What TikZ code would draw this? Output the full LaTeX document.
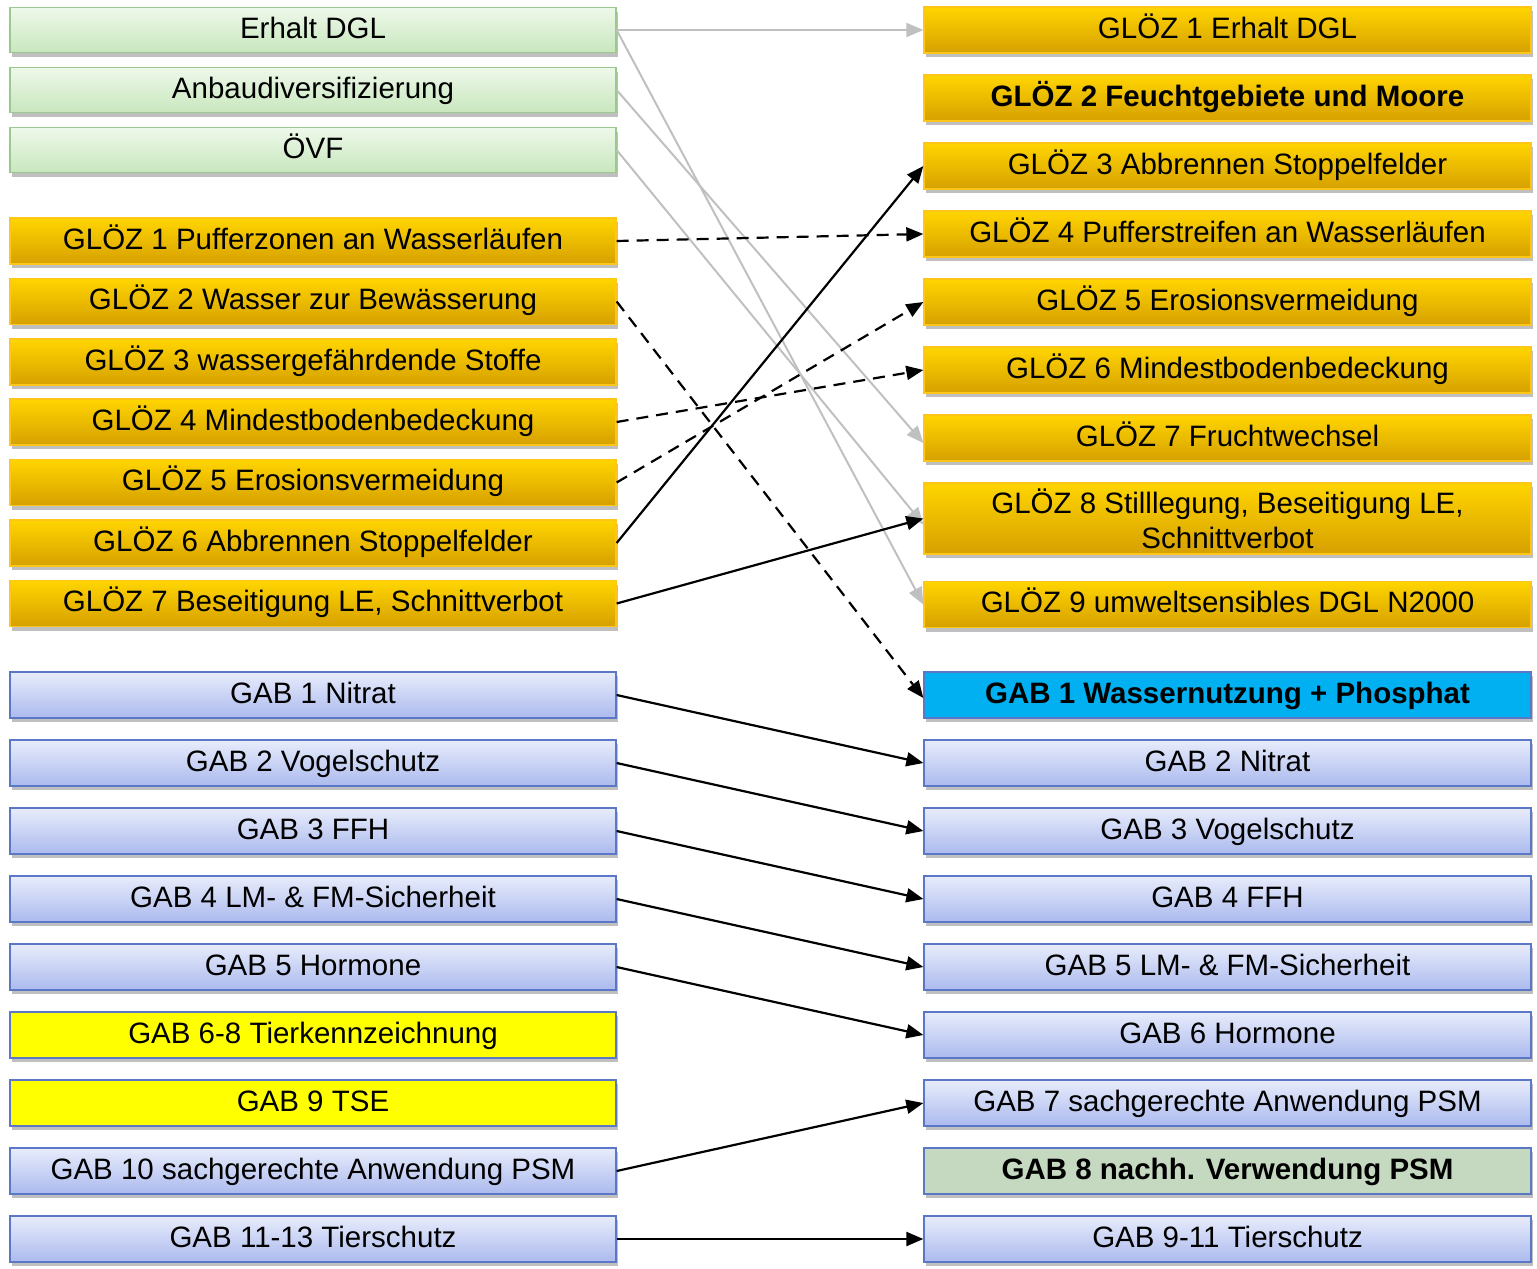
\documentclass[tikz,border=0pt]{standalone}
\usepackage{fontspec}
\setmainfont{Liberation Sans}
\usetikzlibrary{arrows.meta,shadows}
\definecolor{greenTop}{HTML}{EEF8EA}
\definecolor{greenBot}{HTML}{C8E7BE}
\definecolor{greenDraw}{HTML}{9BC88D}
\definecolor{goldTop}{HTML}{FFD500}
\definecolor{goldBot}{HTML}{D6A000}
\definecolor{goldDraw}{HTML}{FFC61A}
\definecolor{lavTop}{HTML}{E8ECFB}
\definecolor{lavBot}{HTML}{ABBAEE}
\definecolor{lavDraw}{HTML}{5A78C5}
\definecolor{yelFill}{HTML}{FFFF00}
\definecolor{cyanFill}{HTML}{00B0F0}
\definecolor{sageFill}{HTML}{C4D9C0}
\definecolor{lineGray}{HTML}{C0C0C0}
\begin{document}
\begin{tikzpicture}[x=1pt,y=-1pt,
  box/.style={rectangle, minimum width=606pt, minimum height=46pt, inner sep=0pt,
    align=center, font=\fontsize{29.5}{35}\selectfont, line width=1.3pt,
    text height=21pt, text depth=5pt,
    drop shadow={shadow xshift=2pt, shadow yshift=-4pt, opacity=0.25, fill=black}},
  greenbox/.style={box, draw=greenDraw, top color=greenTop, bottom color=greenBot},
  goldbox/.style={box, draw=goldDraw, top color=goldTop, bottom color=goldBot},
  lavbox/.style={box, draw=lavDraw, top color=lavTop, bottom color=lavBot},
  yelbox/.style={box, draw=lavDraw, fill=yelFill},
  cyanbox/.style={box, draw=lavDraw, fill=cyanFill, font=\fontsize{29.5}{35}\selectfont\bfseries},
  sagebox/.style={box, draw=lavDraw, fill=sageFill, font=\fontsize{29.5}{35}\selectfont\bfseries},
  boldtext/.style={font=\fontsize{29.5}{35}\selectfont\bfseries},
  grayarrow/.style={draw=lineGray, line width=2pt, -{Triangle[length=17pt,width=14pt]}},
  blackarrow/.style={draw=black, line width=2.2pt, -{Triangle[length=17pt,width=14pt]}},
  dasharrow/.style={blackarrow, dash pattern=on 12pt off 8pt}
]
\useasboundingbox (0,0) rectangle (1537,1269);

% left column
\node[greenbox, minimum height=45pt] (eDGL) at (313,30) {Erhalt DGL};
\node[greenbox, minimum height=45pt] (anbau) at (313,90) {Anbaudiversifizierung};
\node[greenbox, minimum height=45pt] (oevf) at (313,150) {ÖVF};

\node[goldbox] (lg1) at (313,241) {GLÖZ 1 Pufferzonen an Wasserläufen};
\node[goldbox] (lg2) at (313,301.5) {GLÖZ 2 Wasser zur Bewässerung};
\node[goldbox] (lg3) at (313,362) {GLÖZ 3 wassergefährdende Stoffe};
\node[goldbox] (lg4) at (313,422) {GLÖZ 4 Mindestbodenbedeckung};
\node[goldbox] (lg5) at (313,482.5) {GLÖZ 5 Erosionsvermeidung};
\node[goldbox] (lg6) at (313,543) {GLÖZ 6 Abbrennen Stoppelfelder};
\node[goldbox] (lg7) at (313,603.5) {GLÖZ 7 Beseitigung LE, Schnittverbot};

\node[lavbox] (la1) at (313,695) {GAB 1 Nitrat};
\node[lavbox] (la2) at (313,763) {GAB 2 Vogelschutz};
\node[lavbox] (la3) at (313,831) {GAB 3 FFH};
\node[lavbox] (la4) at (313,899) {GAB 4 LM- \& FM-Sicherheit};
\node[lavbox] (la5) at (313,967) {GAB 5 Hormone};
\node[yelbox] (la6) at (313,1035) {GAB 6-8 Tierkennzeichnung};
\node[yelbox] (la9) at (313,1103) {GAB 9 TSE};
\node[lavbox] (la10) at (313,1171) {GAB 10 sachgerechte Anwendung PSM};
\node[lavbox] (la11) at (313,1239) {GAB 11-13 Tierschutz};

% right column
\node[goldbox, minimum width=607pt] (rg1) at (1227.5,30) {GLÖZ 1 Erhalt DGL};
\node[goldbox, minimum width=607pt, boldtext] (rg2) at (1227.5,98) {GLÖZ 2 Feuchtgebiete und Moore};
\node[goldbox, minimum width=607pt] (rg3) at (1227.5,166) {GLÖZ 3 Abbrennen Stoppelfelder};
\node[goldbox, minimum width=607pt] (rg4) at (1227.5,234) {GLÖZ 4 Pufferstreifen an Wasserläufen};
\node[goldbox, minimum width=607pt] (rg5) at (1227.5,302) {GLÖZ 5 Erosionsvermeidung};
\node[goldbox, minimum width=607pt] (rg6) at (1227.5,370) {GLÖZ 6 Mindestbodenbedeckung};
\node[goldbox, minimum width=607pt] (rg7) at (1227.5,438) {GLÖZ 7 Fruchtwechsel};
\node[goldbox, minimum width=607pt, minimum height=71pt, text height={}, text depth={}] (rg8) at (1227.5,518.5) {GLÖZ 8 Stilllegung, Beseitigung LE,\\Schnittverbot};
\node[goldbox, minimum width=607pt] (rg9) at (1227.5,604.5) {GLÖZ 9 umweltsensibles DGL N2000};

\node[cyanbox, minimum width=607pt] (ra1) at (1227.5,695) {GAB 1 Wassernutzung + Phosphat};
\node[lavbox, minimum width=607pt] (ra2) at (1227.5,763) {GAB 2 Nitrat};
\node[lavbox, minimum width=607pt] (ra3) at (1227.5,831) {GAB 3 Vogelschutz};
\node[lavbox, minimum width=607pt] (ra4) at (1227.5,899) {GAB 4 FFH};
\node[lavbox, minimum width=607pt] (ra5) at (1227.5,967) {GAB 5 LM- \& FM-Sicherheit};
\node[lavbox, minimum width=607pt] (ra6) at (1227.5,1035) {GAB 6 Hormone};
\node[lavbox, minimum width=607pt] (ra7) at (1227.5,1103) {GAB 7 sachgerechte Anwendung PSM};
\node[sagebox, minimum width=607pt] (ra8) at (1227.5,1171) {GAB 8 nachh. Verwendung PSM};
\node[lavbox, minimum width=607pt] (ra9) at (1227.5,1239) {GAB 9-11 Tierschutz};

% gray connectors
\draw[grayarrow] (eDGL.east) -- (rg1.west);
\draw[grayarrow] (eDGL.east) -- (rg9.west);
\draw[grayarrow] (anbau.east) -- ([yshift=-5pt]rg7.west);
\draw[grayarrow] (oevf.east) -- ([yshift=-6pt]rg8.west);

% dashed connectors
\draw[dasharrow] (lg1.east) -- (rg4.west);
\draw[dasharrow] (lg2.east) -- ([yshift=-3pt]ra1.west);
\draw[dasharrow] (lg4.east) -- (rg6.west);
\draw[dasharrow] (lg5.east) -- (rg5.west);

% solid connectors
\draw[blackarrow] (lg6.east) -- (rg3.west);
\draw[blackarrow] (lg7.east) -- (rg8.west);
\draw[blackarrow] (la1.east) -- (ra2.west);
\draw[blackarrow] (la2.east) -- (ra3.west);
\draw[blackarrow] (la3.east) -- (ra4.west);
\draw[blackarrow] (la4.east) -- (ra5.west);
\draw[blackarrow] (la5.east) -- (ra6.west);
\draw[blackarrow] (la10.east) -- (ra7.west);
\draw[blackarrow] (la11.east) -- (ra9.west);
\end{tikzpicture}
\end{document}
